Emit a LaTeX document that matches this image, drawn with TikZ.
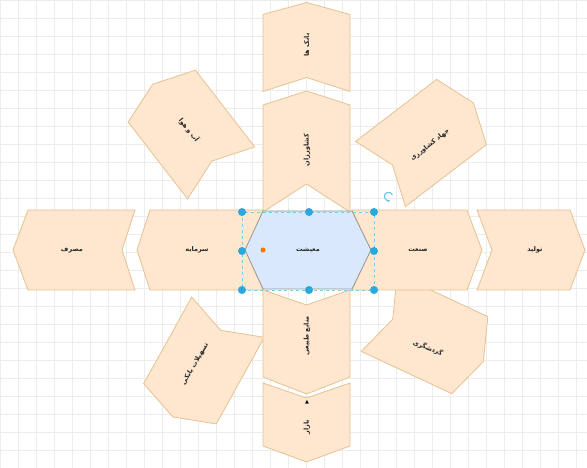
\documentclass[tikz,border=0pt]{standalone}
\usepackage{fontspec}
\newfontfamily\arabicfont[Script=Arabic]{DejaVu Sans}
\newfontfamily\symfont{DejaVu Sans}
\TeXXeTstate=1
\usetikzlibrary{arrows.meta}
\definecolor{peach}{RGB}{255,230,206}
\definecolor{peachline}{RGB}{228,194,146}
\definecolor{hexfill}{RGB}{218,232,252}
\definecolor{hexline}{RGB}{150,150,140}
\definecolor{handle}{RGB}{41,168,224}
\definecolor{gridc}{RGB}{236,236,236}
\tikzset{
  stepfill/.style={fill=peach,draw=peachline,line width=0.8pt,line join=miter},
  lbl/.style={font=\arabicfont\bfseries\fontsize{6.5}{7}\selectfont,text=black!85,inner sep=0pt},
  handledot/.style={fill=handle,draw=none},
  selbox/.style={draw=handle!60,dashed,line width=0.5pt},
}
\newcommand\stepshape[7]{%
  \begin{scope}[shift={(#1,#2)},rotate=#3]
    \path[stepfill] (-#4/2,#5/2) -- (#4/2,#5/2) -- (#4/2+#6,0) -- (#4/2,-#5/2)
      -- (-#4/2,-#5/2) -- (-#4/2+#7,0) -- cycle;
  \end{scope}}
\begin{document}
\begin{tikzpicture}[x=1pt,y=1pt]
\useasboundingbox (0,0) rectangle (587,468);
\fill[white] (0,0) rectangle (587,468);
\draw[gridc,line width=0.5pt] (0,0) grid[step=18] (587,468);
% diagonal shapes (behind)
\stepshape{191.5}{333.5}{127.7}{97}{85}{15}{15}
\stepshape{421}{325}{37.4}{102}{82}{15}{15}
\stepshape{424.5}{134}{-25}{100}{85}{15}{15}
\stepshape{204}{107.5}{241}{99}{83}{15}{15}
% columns
\stepshape{306.5}{415}{90}{77}{87}{12}{14}
\stepshape{306.5}{309.5}{90}{107}{87}{14}{28}
\stepshape{306.5}{134.5}{-90}{87}{87}{17}{15}
\stepshape{306.5}{53.5}{-90}{63}{87}{16}{15}
% row
\stepshape{81.5}{218}{180}{107}{80}{15}{13}
\stepshape{206.5}{218}{180}{113}{80}{13}{15}
\stepshape{409.5}{218}{0}{115}{80}{15}{18}
\stepshape{523.5}{218}{0}{93}{80}{15}{15}
% hexagon
\path[fill=hexfill,draw=hexline,line width=0.8pt] (263,257) -- (352,257) -- (371,218) -- (352,179) -- (263,179) -- (245,218) -- cycle;
% labels
\node[lbl] (center) at (308,218) {\beginR معیشت\endR};
\node[lbl,rotate=90] (banks) at (307,423) {\beginR بانک ها\endR};
\node[lbl,rotate=90] (farmers) at (307,318) {\beginR کشاورزان\endR};
\node[lbl,rotate=90] (natres) at (307,132) {\beginR منابع طبیعی\endR};
\node[lbl,rotate=90] (market) at (307,41) {\beginR بازار\endR};
\node[font=\symfont\fontsize{5}{5}\selectfont,inner sep=0pt] (tri) at (307,66) {▲};
\node[lbl] (consume) at (72,218) {\beginR مصرف\endR};
\node[lbl] (capital) at (197,218) {\beginR سرمایه\endR};
\node[lbl] (industry) at (418,218) {\beginR صنعت\endR};
\node[lbl] (produce) at (535,218) {\beginR تولید\endR};
\node[lbl,rotate=-52.3] (climate) at (189,338) {\beginR آب و هوا\endR};
\node[lbl,rotate=38] (jihad) at (430,323) {\beginR جهاد کشاورزی\endR};
\node[lbl,rotate=-22] (tourism) at (428,120) {\beginR گردشگری\endR};
\node[lbl,rotate=60] (loans) at (195,104) {\beginR تسهیلات بانکی\endR};
% selection overlay
\draw[selbox] (242,256) rectangle (374,178);
\foreach \p in {{(242,256)},{(309,256)},{(374,256)},{(242,217)},{(374,217)},{(242,178)},{(309,178)},{(374,178)}}
  \fill[handledot] \p circle[radius=4];
\fill[orange!90!red] (263,218) circle[radius=2.5];
\draw[handle!70,line width=1pt,-{Stealth[length=2.5pt,width=3pt]}] (392.5,273) arc[start angle=20,end angle=290,radius=4.2];
\end{tikzpicture}
\end{document}
